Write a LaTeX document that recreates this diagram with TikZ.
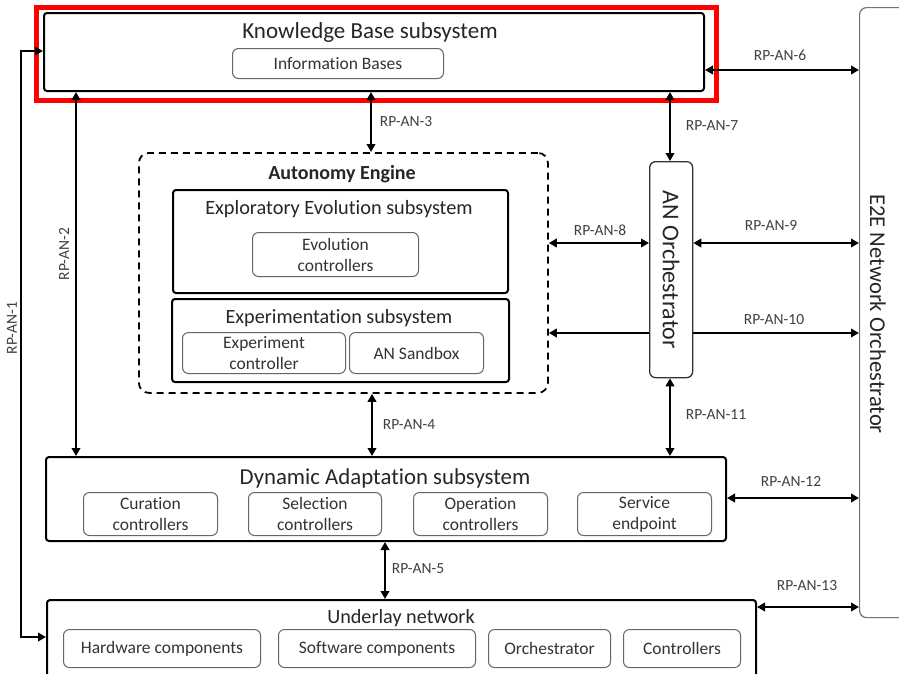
\documentclass[tikz,border=0pt]{standalone}
\usepackage{fontspec}
\setmainfont{Carlito}[Ligatures=NoCommon]
\usetikzlibrary{arrows.meta,calc}
\begin{document}
\begin{tikzpicture}[x=1pt,y=-1pt,
 box/.style={draw=black,line width=2pt,rounded corners=3pt,anchor=north west,inner sep=0pt,fill=white},
 subbox/.style={draw=black!60,line width=1pt,rounded corners=6pt,anchor=north west,inner sep=0pt,align=center,
   font=\fontsize{17.5}{21}\selectfont,text=black!80},
 ttl/.style={anchor=base,inner sep=0pt,text=black!85},
 conn/.style={line width=2.6pt,line join=miter,{Triangle[length=8pt,width=8.5pt]}-{Triangle[length=8pt,width=8.5pt]}},
 lbl/.style={font=\fontsize{15.5}{17}\selectfont,text=black!75,inner sep=0pt}]
\useasboundingbox (0,0) rectangle (899,673);
\clip (0,0) rectangle (899,673);

% main boxes
\node[box,minimum width=660pt,minimum height=78pt] (kb) at (43,12) {};
\node[draw=red,line width=4.5pt,anchor=north west,inner sep=0pt,minimum width=680pt,minimum height=93pt] (hl) at (34,5) {};
\node[ttl,font=\fontsize{23}{27}\selectfont] (kbt) at (370,38) {Knowledge Base subsystem};
\node[subbox,minimum width=211pt,minimum height=30pt] (ib) at (232,48) {Information Bases};

\node[draw=black,line width=1.8pt,dash pattern=on 7pt off 5pt,rounded corners=10pt,anchor=north west,inner sep=0pt,
  minimum width=409pt,minimum height=240pt] (ae) at (138,152) {};
\node[ttl,font=\bfseries\fontsize{20}{24}\selectfont] (aet) at (342,179) {Autonomy Engine};

\node[box,minimum width=335pt,minimum height=103pt] (ee) at (172,189) {};
\node[ttl,font=\fontsize{20.3}{24}\selectfont] (eet) at (339,214) {Exploratory Evolution subsystem};
\node[subbox,minimum width=166pt,minimum height=44pt] (ec) at (252,232) {Evolution\\controllers};

\node[box,minimum width=337pt,minimum height=83pt] (ex) at (171,298) {};
\node[ttl,font=\fontsize{20.2}{24}\selectfont] (ext) at (339,323) {Experimentation subsystem};
\node[subbox,minimum width=163pt,minimum height=41pt] (exc) at (182,332) {Experiment\\controller};
\node[subbox,minimum width=134pt,minimum height=41pt] (sb) at (349,332) {AN Sandbox};

\node[draw=black!80,line width=1.3pt,rounded corners=6pt,anchor=north west,inner sep=0pt,fill=white,
  minimum width=43pt,minimum height=216pt] (ano) at (649,161) {};
\node[rotate=-90,inner sep=0pt,font=\fontsize{24}{28}\selectfont,text=black!85] (anot) at (ano.center) {AN Orchestrator};

\node[draw=black!55,line width=1.2pt,rounded corners=7pt,anchor=north west,inner sep=0pt,
  minimum width=50pt,minimum height=610pt] (e2e) at (859,7) {};
\node[rotate=-90,inner sep=0pt,font=\fontsize{22.6}{26}\selectfont,text=black!85] (e2et) at (878,314) {E2E Network Orchestrator};

\node[box,minimum width=680pt,minimum height=84pt] (da) at (45,456) {};
\node[ttl,font=\fontsize{22.8}{27}\selectfont] (dat) at (385,484) {Dynamic Adaptation subsystem};
\node[subbox,minimum width=134pt,minimum height=43pt] (cur) at (83,492) {Curation\\controllers};
\node[subbox,minimum width=133pt,minimum height=43pt] (sel) at (248,492) {Selection\\controllers};
\node[subbox,minimum width=134pt,minimum height=43pt] (op) at (413,492) {Operation\\controllers};
\node[subbox,minimum width=134pt,minimum height=43pt] (se) at (577,492) {Service\\endpoint};

\node[box,minimum width=709pt,minimum height=100pt] (ul) at (46,599) {};
\node[ttl,font=\fontsize{20.2}{24}\selectfont] (ult) at (401,623) {Underlay network};
\node[subbox,minimum width=197pt,minimum height=38pt] (hw) at (63,629) {Hardware components};
\node[subbox,minimum width=197pt,minimum height=38pt] (sw) at (278,629) {Software components};
\node[subbox,minimum width=122pt,minimum height=38pt] (orc) at (488,629) {Orchestrator};
\node[subbox,minimum width=117pt,minimum height=38pt] (ctl) at (623,629) {Controllers};

% connector coordinates
\coordinate (r1a) at (21,51);
\coordinate (r1b) at (21,637);
\coordinate (c2) at (76,0);
\coordinate (c3) at (371,0);
\coordinate (c4) at (372,0);
\coordinate (c5) at (385,0);
\coordinate (c7) at (670,0);
\coordinate (h6) at (0,70);
\coordinate (h8) at (0,243);
\coordinate (h10) at (0,333);
\coordinate (h12) at (0,498);
\coordinate (h13) at (0,607);

\draw[conn] (kb.west |- r1a) -- (r1a) -- (r1b) -- (ul.west |- r1b);
\draw[conn] (kb.south -| c2) -- (da.north -| c2);
\draw[conn] (kb.south -| c3) -- (ae.north -| c3);
\draw[conn] (ae.south -| c4) -- (da.north -| c4);
\draw[conn] (da.south -| c5) -- (ul.north -| c5);
\draw[conn] (kb.east |- h6) -- (e2e.west |- h6);
\draw[conn] (kb.south -| c7) -- (ano.north -| c7);
\draw[conn] (ae.east |- h8) -- (ano.west |- h8);
\draw[conn] (ano.east |- h8) -- (e2e.west |- h8);
\draw[line width=2.6pt,{Triangle[length=8pt,width=8.5pt]}-] (ae.east |- h10) -- (ano.west |- h10);
\draw[line width=2.6pt,-{Triangle[length=8pt,width=8.5pt]}] (ano.east |- h10) -- (e2e.west |- h10);
\draw[conn] (ano.south -| c7) -- (da.north -| c7);
\draw[conn] (da.east |- h12) -- (e2e.west |- h12);
\draw[conn] (ul.east |- h13) -- (e2e.west |- h13);

% labels
\node[lbl,rotate=90] (l1) at (12,328) {RP-AN-1};
\node[lbl,rotate=90] (l2) at (64,254) {RP-AN-2};
\node[lbl] (l3) at (406,122) {RP-AN-3};
\node[lbl] (l4) at (409,425) {RP-AN-4};
\node[lbl] (l5) at (418,569) {RP-AN-5};
\node[lbl] (l6) at (780,55) {RP-AN-6};
\node[lbl] (l7) at (712,126) {RP-AN-7};
\node[lbl] (l8) at (600,230) {RP-AN-8};
\node[lbl] (l9) at (771,225) {RP-AN-9};
\node[lbl] (l10) at (774,320) {RP-AN-10};
\node[lbl] (l11) at (716,415) {RP-AN-11};
\node[lbl] (l12) at (791,481) {RP-AN-12};
\node[lbl] (l13) at (807,586) {RP-AN-13};
\end{tikzpicture}
\end{document}
